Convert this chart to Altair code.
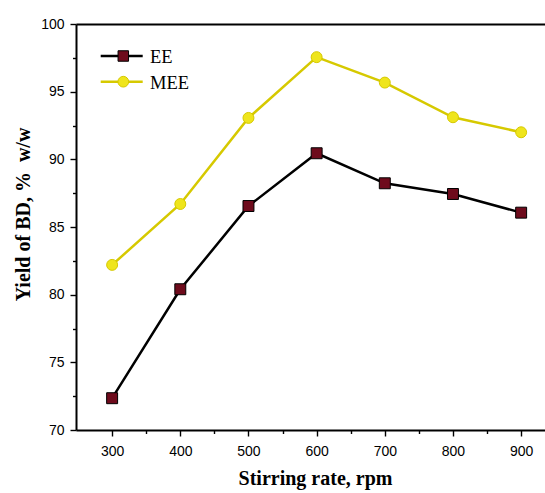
import altair as alt
import pandas as pd

# Stirring rate (rpm) and biodiesel yield (% w/w) for the two processes
rates = [300, 400, 500, 600, 700, 800, 900]
ee_yield = [72.35, 80.4, 86.55, 90.45, 88.23, 87.44, 86.06]
mee_yield = [82.2, 86.7, 93.06, 97.55, 95.67, 93.11, 92.0]
series_names = ["EE", "MEE"]

x_ticks = [300, 350, 400, 450, 500, 550, 600, 650, 700, 750, 800, 850, 900]
y_ticks = [70, 72.5, 75, 77.5, 80, 82.5, 85, 87.5, 90, 92.5, 95, 97.5, 100]

line_colors = ["#000000", "#d6c900"]
marker_fills = ["#6e0b1c", "#efe51c"]
marker_strokes = ["#000000", "#d6c900"]

df = pd.DataFrame({
    "rate": rates * 2,
    "yield": ee_yield + mee_yield,
    "series": [series_names[0]] * len(rates) + [series_names[1]] * len(rates),
})
legend_df = pd.DataFrame({"series": series_names})

x_scale = alt.Scale(domain=[247, 935], nice=False, zero=False)
y_scale = alt.Scale(domain=[70, 100], nice=False, zero=False)
stroke_scale = alt.Scale(domain=series_names, range=line_colors)

axis_common = dict(
    domainColor="black", domainWidth=2, tickColor="black", tickWidth=1.4,
    labelColor="black", labelFont="Liberation Sans", labelFontSize=14,
    titleFont="Liberation Serif", titleFontSize=20, titleFontWeight="bold",
    titleColor="black", grid=False, labelOverlap=False, format="d",
)

x_axis = alt.Axis(
    values=x_ticks,
    labelExpr="datum.value % 100 === 0 ? datum.label : ''",
    tickSize={"condition": {"test": "datum.value % 100 === 0", "value": 6}, "value": 3.5},
    labelPadding=8, labelFlush=False,
    title="Stirring rate, rpm", titleX=239, titleY=54, titleBaseline="alphabetic",
    titleAlign="center", titleAnchor="middle",
    **axis_common,
)
y_axis = alt.Axis(
    values=y_ticks,
    labelExpr="datum.value % 5 === 0 ? datum.label : ''",
    tickSize={"condition": {"test": "datum.value % 5 === 0", "value": 6}, "value": 3.5},
    labelPadding=6, labelFlush=False,
    title="Yield of BD, %\u00a0 w/w", titleX=-47, titleY=190, titleAngle=270,
    titleBaseline="alphabetic", titleAlign="center", titleAnchor="middle",
    **axis_common,
)
top_axis = alt.Axis(
    orient="top", labels=False, ticks=False, title=None, grid=False,
    domainColor="black", domainWidth=2,
)

y_enc = alt.Y("yield:Q", scale=y_scale, axis=y_axis)

base = alt.Chart(df)

lines = base.mark_line(strokeWidth=2.5).encode(
    x=alt.X("rate:Q", scale=x_scale, axis=x_axis),
    y=y_enc,
    stroke=alt.Stroke("series:N", scale=stroke_scale, legend=None),
    detail="series:N",
)

ee_points = base.transform_filter(alt.datum.series == "EE").mark_point(
    shape="square", filled=True, fill=marker_fills[0], stroke=marker_strokes[0],
    strokeWidth=1, size=120, opacity=1,
).encode(
    x=alt.X("rate:Q", scale=x_scale, axis=None),
    y=y_enc,
)

mee_points = base.transform_filter(alt.datum.series == "MEE").mark_point(
    shape="circle", filled=True, fill=marker_fills[1], stroke=marker_strokes[1],
    strokeWidth=1, size=120, opacity=1,
).encode(
    x=alt.X("rate:Q", scale=x_scale, axis=None),
    y=y_enc,
)

# Invisible layer that carries the top frame line
frame_top = base.mark_point(opacity=0).encode(
    x=alt.X("rate:Q", scale=x_scale, axis=top_axis),
    y=y_enc,
)

plot = alt.layer(lines, ee_points, mee_points, frame_top).resolve_axis(x="independent")

# Legend in the upper-left corner of the plot: line + marker + label per series
legend_y = alt.Y(
    "series:N",
    scale=alt.Scale(type="point", domain=series_names, range=[32, 57.7], padding=0),
    axis=None,
)
legend_base = alt.Chart(legend_df)
legend_lines = legend_base.mark_rule(strokeWidth=2.5).encode(
    x=alt.value(24.7), x2=alt.value(66.7), y=legend_y,
    stroke=alt.Stroke("series:N", scale=stroke_scale, legend=None),
)
legend_ee = legend_base.transform_filter(alt.datum.series == "EE").mark_point(
    shape="square", filled=True, fill=marker_fills[0], stroke=marker_strokes[0],
    strokeWidth=1, size=110, opacity=1,
).encode(x=alt.value(47.3), y=legend_y)
legend_mee = legend_base.transform_filter(alt.datum.series == "MEE").mark_point(
    shape="circle", filled=True, fill=marker_fills[1], stroke=marker_strokes[1],
    strokeWidth=1, size=115, opacity=1,
).encode(x=alt.value(47.3), y=legend_y)
legend_text = legend_base.mark_text(
    align="left", baseline="middle", font="Liberation Serif", fontSize=18.5,
    color="black", dy=1,
).encode(x=alt.value(74), y=legend_y, text="series:N")

legend = alt.layer(legend_lines, legend_ee, legend_mee, legend_text)

chart = alt.layer(plot, legend).resolve_scale(y="independent").properties(
    width=469, height=406,
    autosize=alt.AutoSizeParams(type="none"),
    padding={"left": 76, "top": 24, "right": 0, "bottom": 63},
    background="white",
).configure_view(stroke=None)

chart.save("out.html", embed_options={"renderer": "svg", "actions": False})
